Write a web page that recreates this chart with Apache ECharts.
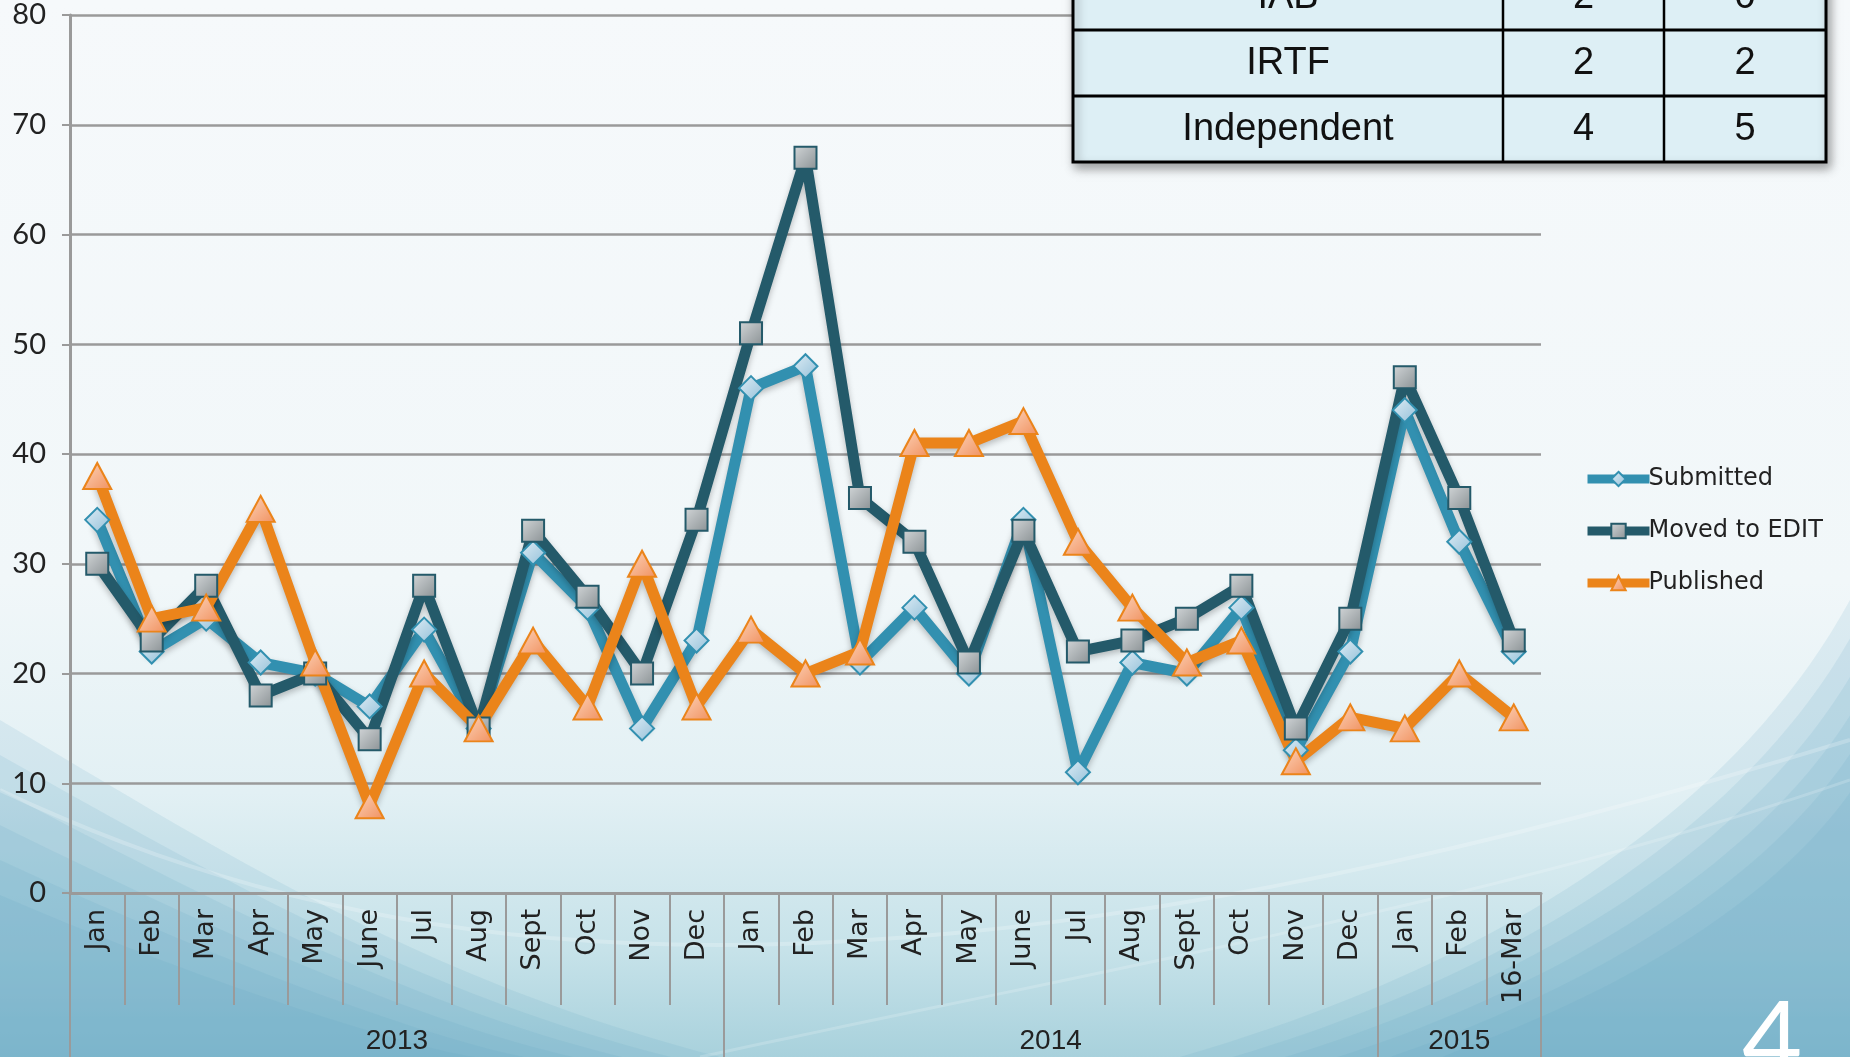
<!DOCTYPE html>
<html>
<head>
<meta charset="utf-8">
<script src="https://cdn.jsdelivr.net/npm/echarts@6/dist/echarts.min.js"></script>
<style>
  html, body { margin: 0; padding: 0; overflow: hidden; }
  #chart_main { width: 1850px; height: 1057px; }
</style>
</head>
<body>
<div id="chart_main"></div>
<script>
// month categories, 2013-01 .. 2015-03-16
const months = ['Jan', 'Feb', 'Mar', 'Apr', 'May', 'June', 'Jul', 'Aug', 'Sept', 'Oct', 'Nov', 'Dec',
  'Jan', 'Feb', 'Mar', 'Apr', 'May', 'June', 'Jul', 'Aug', 'Sept', 'Oct', 'Nov', 'Dec',
  'Jan', 'Feb', '16-Mar'];
const years = ['2013', '2014', '2015'];
const yearSpans = [12, 12, 3];

const submitted = [34, 22, 25, 21, 20, 17, 24, 15, 31, 26, 15, 23,
  46, 48, 21, 26, 20, 34, 11, 21, 20, 26, 13, 22, 44, 32, 22];
const movedToEdit = [30, 23, 28, 18, 20, 14, 28, 15, 33, 27, 20, 34,
  51, 67, 36, 32, 21, 33, 22, 23, 25, 28, 15, 25, 47, 36, 23];
const published = [38, 25, 26, 35, 21, 8, 20, 15, 23, 17, 30, 17,
  24, 20, 22, 41, 41, 43, 32, 26, 21, 23, 12, 16, 15, 20, 16];

const yTicks = [0, 10, 20, 30, 40, 50, 60, 70, 80];

// the small table in the corner
const tableRows = ['IAB', 'IRTF', 'Independent'];
const tableColA = [2, 2, 4];
const tableColB = [0, 2, 5];

// year axis: half-category slots so the year name sits in the middle of its span
let yearData = [];
let yearTickIdx = [0];
let yearLabelIdx = [];
let pos = 0;
for (let i = 0; i <= 2 * months.length; i++) yearData.push('');
years.forEach((y, k) => {
  let mid = pos * 2 + yearSpans[k];
  yearData[mid] = y;
  yearLabelIdx.push(mid);
  pos += yearSpans[k];
  yearTickIdx.push(pos * 2);
});

function grad(c1, c2) {
  return new echarts.graphic.LinearGradient(0, 0, 1, 1, [
    { offset: 0, color: c1 }, { offset: 1, color: c2 }
  ]);
}

// background swoosh outlines (decoration only)
function bez(p0, p1, p2, p3) {
  let pts = [];
  for (let i = 0; i <= 40; i++) {
    let t = i / 40, u = 1 - t;
    pts.push([
      u * u * u * p0[0] + 3 * u * u * t * p1[0] + 3 * u * t * t * p2[0] + t * t * t * p3[0],
      u * u * u * p0[1] + 3 * u * u * t * p1[1] + 3 * u * t * t * p2[1] + t * t * t * p3[1]
    ]);
  }
  return pts;
}
let bgEls = [{
  type: 'rect', z: -10, silent: true,
  shape: { x: 0, y: 0, width: 1850, height: 1057 },
  style: {
    fill: new echarts.graphic.LinearGradient(0, 0, 0, 1, [
      { offset: 0, color: '#f6f9fb' },
      { offset: 0.55, color: '#f1f7f9' },
      { offset: 0.75, color: '#e2f0f4' },
      { offset: 0.9, color: '#c6e2e9' },
      { offset: 1, color: '#a8d1dc' }
    ])
  }
}];
// soft layered swooshes
for (let k = 0; k < 6; k++) {
  let d = k * 35;
  bgEls.push({
    type: 'polygon', z: -9, silent: true,
    shape: { points: bez([0, 720 + d], [220, 850 + d * 0.8], [420, 980 + d * 0.4], [720 - d * 1.4, 1057]).concat([[0, 1057]]) },
    style: { fill: 'rgba(95,165,190,0.13)' }
  });
  bgEls.push({
    type: 'polygon', z: -9, silent: true,
    shape: { points: bez([1850, 600 + d * 1.1], [1730, 820 + d * 0.8], [1480, 970 + d * 0.4], [1180 + d * 1.5, 1057]).concat([[1850, 1057]]) },
    style: { fill: 'rgba(95,165,190,0.13)' }
  });
}
bgEls.push({
  type: 'polyline', z: -8, silent: true,
  shape: { points: bez([0, 790], [400, 980], [900, 1030], [1850, 740]) },
  style: { stroke: 'rgba(255,255,255,0.22)', lineWidth: 4 }
});
bgEls.push({
  type: 'polyline', z: -8, silent: true,
  shape: { points: bez([700, 1057], [1100, 970], [1500, 900], [1850, 780]) },
  style: { stroke: 'rgba(255,255,255,0.18)', lineWidth: 3 }
});

// table graphic
const tX = 1073, tW = [430, 161, 162], tTop = -36, tRowH = 66;
let tableEls = [];
let tW_all = tW[0] + tW[1] + tW[2];
tableEls.push({
  type: 'rect', z: 100, shape: { x: tX, y: tTop, width: tW_all, height: tRowH * 3 },
  style: { fill: '#ddeff5', stroke: '#000', lineWidth: 3, shadowBlur: 10, shadowOffsetX: 3, shadowOffsetY: 5, shadowColor: 'rgba(0,0,0,0.35)' }
});
for (let r = 1; r < 3; r++) {
  tableEls.push({ type: 'line', z: 101, shape: { x1: tX, y1: tTop + r * tRowH, x2: tX + tW_all, y2: tTop + r * tRowH },
    style: { stroke: '#000', lineWidth: 3 } });
}
tableEls.push({ type: 'line', z: 101, shape: { x1: tX + tW[0], y1: tTop, x2: tX + tW[0], y2: tTop + 3 * tRowH }, style: { stroke: '#000', lineWidth: 2.5 } });
tableEls.push({ type: 'line', z: 101, shape: { x1: tX + tW[0] + tW[1], y1: tTop, x2: tX + tW[0] + tW[1], y2: tTop + 3 * tRowH }, style: { stroke: '#000', lineWidth: 2.5 } });
tableRows.forEach((name, r) => {
  let cy = tTop + r * tRowH + tRowH / 2 + 1;
  let cells = [name, String(tableColA[r]), String(tableColB[r])];
  let cx = [tX + tW[0] / 2, tX + tW[0] + tW[1] / 2, tX + tW[0] + tW[1] + tW[2] / 2];
  cells.forEach((t, c) => {
    tableEls.push({ type: 'text', z: 102, x: cx[c], y: cy,
      style: { text: t, fill: '#111', font: '38px "Liberation Sans", sans-serif', align: 'center', verticalAlign: 'middle' } });
  });
});

let myChart = echarts.init(document.getElementById('chart_main'));
myChart.setOption({
  animation: false,
  graphic: bgEls.concat([
    { type: 'group', z: 100, children: tableEls },
    {
      type: 'text', z: 100, x: 1742, y: 990,
      style: { text: '4', fill: '#ffffff', font: 'normal 104px Lato, sans-serif' }
    }
  ]),
  grid: { left: 70, right: 309, top: 15, bottom: 164, containLabel: false },
  legend: {
    orient: 'vertical',
    left: 1578,
    top: 462,
    itemWidth: 62,
    itemHeight: 18,
    itemGap: 28,
    lineStyle: { width: 9 },
    textStyle: { fontFamily: 'DejaVu Sans', fontSize: 24, color: '#222', padding: [0, 0, 0, -6] },
    data: ['Submitted', 'Moved to EDIT', 'Published']
  },
  xAxis: [
    {
      type: 'category',
      data: months,
      boundaryGap: true,
      axisLine: { lineStyle: { color: '#9a9a9a', width: 3 } },
      axisTick: { show: true, interval: 0, length: 112, lineStyle: { color: '#9a9a9a', width: 2 } },
      axisLabel: { interval: 0, rotate: 90, margin: 16, fontFamily: 'DejaVu Sans', fontSize: 27, color: '#222' },
      splitLine: { show: false }
    },
    {
      type: 'category',
      data: yearData,
      boundaryGap: false,
      position: 'bottom',
      axisLine: { show: false },
      axisTick: { show: true, length: 170, interval: (i) => yearTickIdx.includes(i), lineStyle: { color: '#9a9a9a', width: 2 } },
      axisLabel: { interval: (i) => yearLabelIdx.includes(i), margin: 134, fontFamily: 'Liberation Sans', fontSize: 28, color: '#222' },
      splitLine: { show: false }
    }
  ],
  yAxis: {
    type: 'value',
    min: yTicks[0],
    max: yTicks[yTicks.length - 1],
    interval: 10,
    axisLine: { show: true, lineStyle: { color: '#9a9a9a', width: 3 } },
    axisTick: { show: true, length: 8, lineStyle: { color: '#9a9a9a', width: 2 } },
    axisLabel: { margin: 24, fontFamily: 'Lato', fontSize: 29, color: '#222' },
    splitLine: { lineStyle: { color: '#9a9a9a', width: 2.5 } }
  },
  series: [
    {
      name: 'Submitted',
      type: 'line',
      data: submitted,
      symbol: 'diamond',
      symbolSize: 24,
      lineStyle: { color: '#3290b0', width: 11, shadowBlur: 6, shadowOffsetY: 3, shadowColor: 'rgba(0,0,0,0.25)' },
      itemStyle: { color: grad('#e0eef6', '#92bfd8'), borderColor: '#3290b0', borderWidth: 2 }
    },
    {
      name: 'Moved to EDIT',
      type: 'line',
      data: movedToEdit,
      symbol: 'rect',
      symbolSize: 22,
      lineStyle: { color: '#245a6a', width: 11, shadowBlur: 6, shadowOffsetY: 3, shadowColor: 'rgba(0,0,0,0.25)' },
      itemStyle: { color: grad('#d2d6d8', '#8a9194'), borderColor: '#245a6a', borderWidth: 2 }
    },
    {
      name: 'Published',
      type: 'line',
      data: published,
      symbol: 'triangle',
      symbolSize: [28, 26],
      lineStyle: { color: '#eb841a', width: 11, shadowBlur: 6, shadowOffsetY: 3, shadowColor: 'rgba(0,0,0,0.25)' },
      itemStyle: { color: grad('#fdd6bd', '#f0905e'), borderColor: '#eb841a', borderWidth: 2 }
    }
  ]
});
</script>
</body>
</html>
